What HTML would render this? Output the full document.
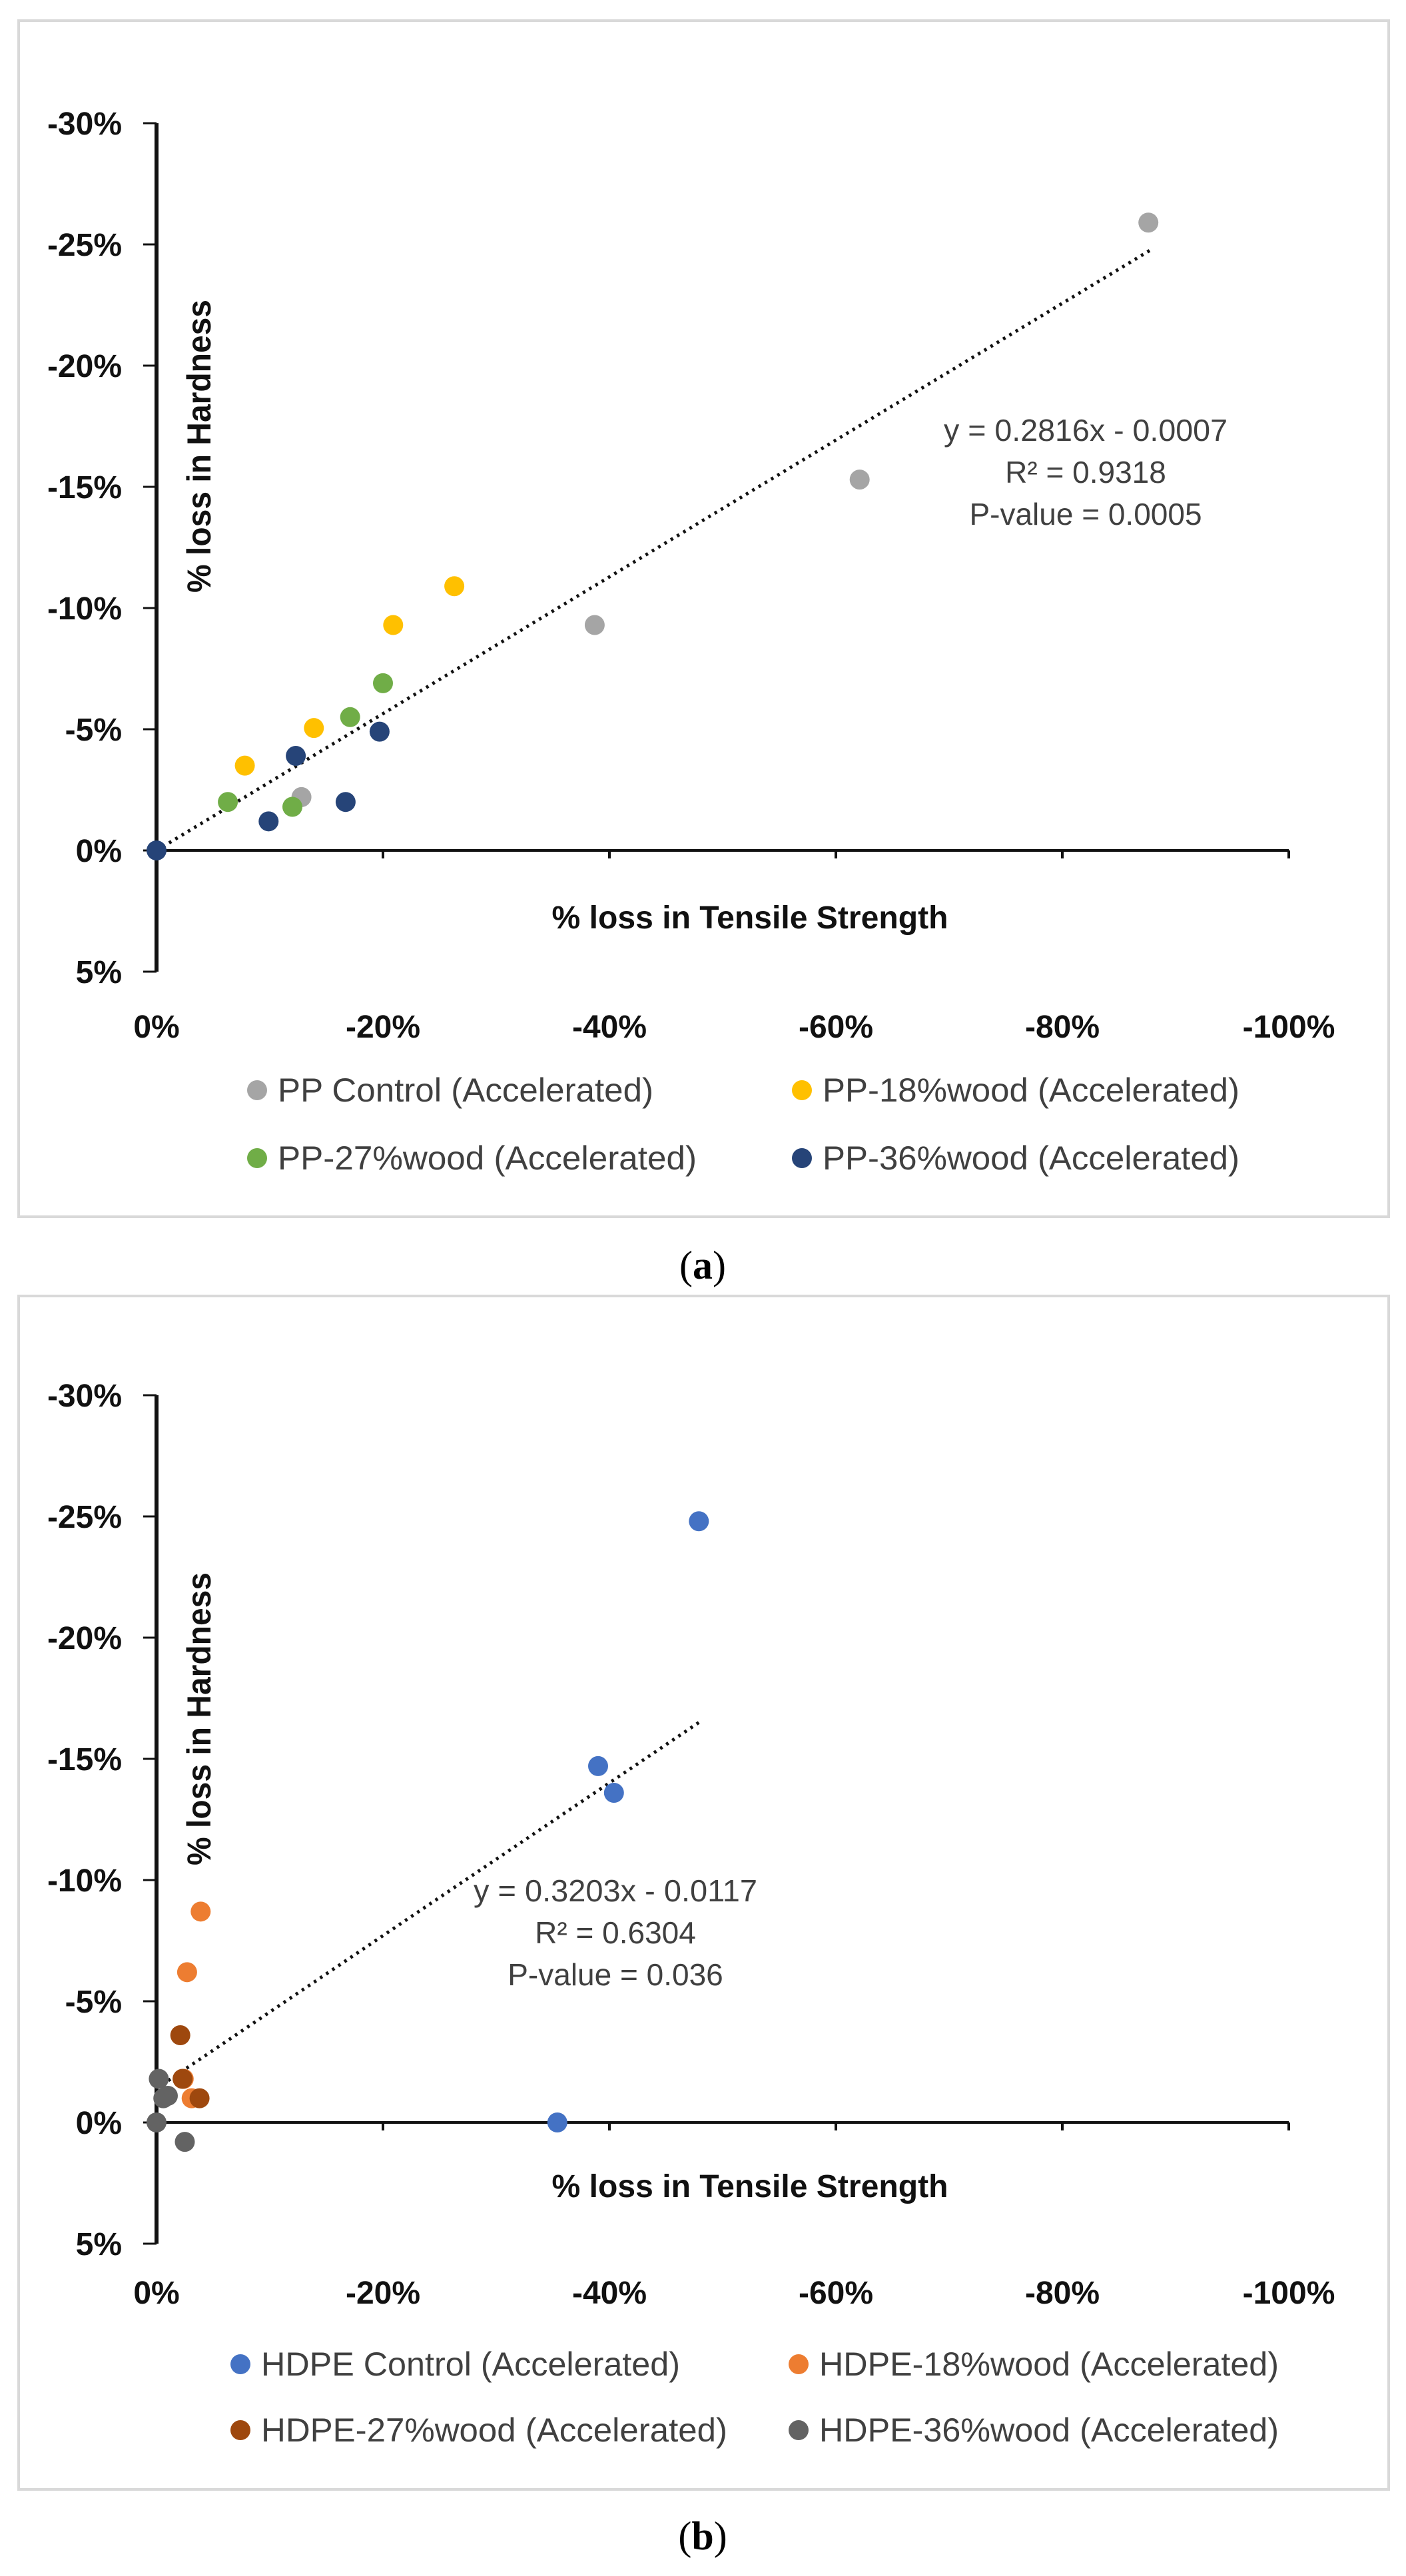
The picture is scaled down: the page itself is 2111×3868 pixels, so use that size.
<!DOCTYPE html>
<html><head><meta charset="utf-8"><style>
html,body{margin:0;padding:0;background:#fff;}
svg{display:block;font-family:"Liberation Sans",sans-serif;}
</style></head><body>
<svg id="fig" width="2111" height="3868" viewBox="0 0 2111 3868">
<rect x="0" y="0" width="2111" height="3868" fill="#fff"/>
</svg>
<script>
const NS="http://www.w3.org/2000/svg";
const svg=document.getElementById('fig');
// ---- data (x = % loss tensile, y = % loss hardness, magnitudes) ----
const xTicks=[0,20,40,60,80,100];
const yTicks=[-30,-25,-20,-15,-10,-5,0,5];
const aNames=["PP Control (Accelerated)","PP-18%wood (Accelerated)","PP-27%wood (Accelerated)","PP-36%wood (Accelerated)"];
const aColors=["#a5a5a5","#ffc000","#70ad47","#264478"];
const aCtrlX=[87.6,62.1,38.7,12.8];
const aCtrlY=[25.9,15.3,9.3,2.2];
const a18X=[26.3,20.9,13.9,7.8];
const a18Y=[10.9,9.3,5.05,3.5];
const a27X=[20.0,17.1,6.3,12.0];
const a27Y=[6.9,5.5,2.0,1.8];
const a36X=[19.7,12.3,16.7,9.9,0];
const a36Y=[4.9,3.9,2.0,1.2,0];
const aTrendX=[0,87.9];
const aTrendY=[0,24.8];
const aEq=["y = 0.2816x - 0.0007","R² = 0.9318","P-value = 0.0005"];
const bNames=["HDPE Control (Accelerated)","HDPE-18%wood (Accelerated)","HDPE-27%wood (Accelerated)","HDPE-36%wood (Accelerated)"];
const bColors=["#4472c4","#ed7d31","#9e480e","#636363"];
const bCtrlX=[47.9,39.0,40.4,35.4];
const bCtrlY=[24.8,14.7,13.6,0];
const b18X=[3.9,2.7,3.1,2.4];
const b18Y=[8.7,6.2,1.0,1.8];
const b27X=[2.1,2.3,3.8];
const b27Y=[3.6,1.8,1.0];
const b36X=[0.2,0.6,1.0,0,2.5];
const b36Y=[1.8,1.0,1.1,0,-0.8];
const bTrendX=[0.5,47.9];
const bTrendY=[1.56,16.5];
const bEq=["y = 0.3203x - 0.0117","R² = 0.6304","P-value = 0.036"];

function el(tag,attrs,parent,text){const e=document.createElementNS(NS,tag);for(const k in attrs)e.setAttribute(k,attrs[k]);if(text!==undefined)e.textContent=text;(parent||svg).appendChild(e);return e;}

function chart(cfg){
  const g=el('g',{});
  
  
  const fr=el('rect',{x:28,y:cfg.fTop,width:2057,height:cfg.fBot-cfg.fTop,fill:'#fff',stroke:'#d9d9d9','stroke-width':4},g);
  
  
  const x0=235,x1=1935;
  const X=v=>x0+(x1-x0)*v/100;
  const Y=v=>cfg.y0 - v*(cfg.step/5);
  const ya=el('line',{x1:x0,y1:Y(30),x2:x0,y2:Y(-5),stroke:'#111','stroke-width':6},g);
  
  
  yTicks.forEach(t=>{
    el('line',{x1:x0-20,y1:Y(-t),x2:x0,y2:Y(-t),stroke:'#111','stroke-width':3},g);
    const tl=el('text',{x:183,y:Y(-t)+17,'text-anchor':'end','font-size':48,'font-weight':'bold',fill:'#111'},g,t+'%');
    
    
  });
  const xa=el('line',{x1:x0,y1:cfg.y0,x2:x1,y2:cfg.y0,stroke:'#111','stroke-width':4},g);
  
  
  xTicks.forEach(t=>{
    el('line',{x1:X(t),y1:cfg.y0,x2:X(t),y2:cfg.y0+12,stroke:'#111','stroke-width':4},g);
    const tl=el('text',{x:X(t),y:cfg.xLab,'text-anchor':'middle','font-size':48,'font-weight':'bold',fill:'#111'},g,(t===0?'0':'-'+t)+'%');
    
    
  });
  const xt=el('text',{x:1126,y:cfg.xTitle+17,'text-anchor':'middle','font-size':48,'font-weight':'bold',fill:'#111',textLength:595,lengthAdjust:'spacingAndGlyphs'},g,'% loss in Tensile Strength');
  
  
  const yt=el('text',{x:0,y:0,'text-anchor':'middle','font-size':50,'font-weight':'bold',fill:'#111',textLength:440,lengthAdjust:'spacingAndGlyphs',transform:`translate(316,${cfg.yTitle}) rotate(-90)`},g,'% loss in Hardness');
  
  
  const tr=el('line',{x1:X(cfg.tx[0]),y1:Y(cfg.ty[0]),x2:X(cfg.tx[1]),y2:Y(cfg.ty[1]),stroke:'#111','stroke-width':5,'stroke-dasharray':'4 7'},g);
  
  
  cfg.eq.forEach((s,i)=>{
    const t=el('text',{x:cfg.eqX,y:cfg.eqY+i*63+15,'text-anchor':'middle','font-size':46,fill:'#404040'},g,s);
    if(i===0){t.setAttribute('textLength',426);t.setAttribute('lengthAdjust','spacingAndGlyphs');}
    
    
  });
  cfg.series.forEach((s,si)=>{
    s[0].forEach((xv,i)=>{
      const c=el('circle',{cx:X(xv),cy:Y(s[1][i]),r:15,fill:cfg.colors[si]},g);
      
      
    });
  });
  cfg.names.forEach((n,i)=>{
    const lx=i%2===0?cfg.lx[0]:cfg.lx[1];
    const ly=i<2?cfg.ly[0]:cfg.ly[1];
    const lg=el('g',{},g);
    
    
    el('circle',{cx:lx,cy:ly,r:15,fill:cfg.colors[i]},lg);
    el('text',{x:lx+31,y:ly+17,'font-size':50,fill:'#404040',textLength:cfg.lw[i],lengthAdjust:'spacingAndGlyphs'},lg,n);
  });
  const cap=el('text',{x:1055,y:cfg.cap+18,'text-anchor':'middle','font-size':60,fill:'#000','font-family':'Liberation Serif, serif'},svg);
  
  
  el('tspan',{},cap,'(');el('tspan',{'font-weight':'bold'},cap,cfg.letter);el('tspan',{},cap,')');
}
chart({name:'chart-a',fTop:31,fBot:1827,y0:1277,step:182,xLab:1558,xTitle:1377,yTitle:670,
  tx:aTrendX,ty:aTrendY,eq:aEq,eqX:1630,eqY:647,colors:aColors,names:aNames,lw:[564,626,629,626],
  series:[[aCtrlX,aCtrlY],[a18X,a18Y],[a27X,a27Y],[a36X,a36Y]],lx:[386,1204],ly:[1637,1739],cap:1902,letter:'a'});
chart({name:'chart-b',fTop:1946,fBot:3738,y0:3187,step:182,xLab:3459,xTitle:3282,yTitle:2581,
  tx:bTrendX,ty:bTrendY,eq:bEq,eqX:924,eqY:2840,colors:bColors,names:bNames,lw:[629,690,700,690],
  series:[[bCtrlX,bCtrlY],[b18X,b18Y],[b27X,b27Y],[b36X,b36Y]],lx:[361,1199],ly:[3550,3649],cap:3810,letter:'b'});
</script>
</body></html>
